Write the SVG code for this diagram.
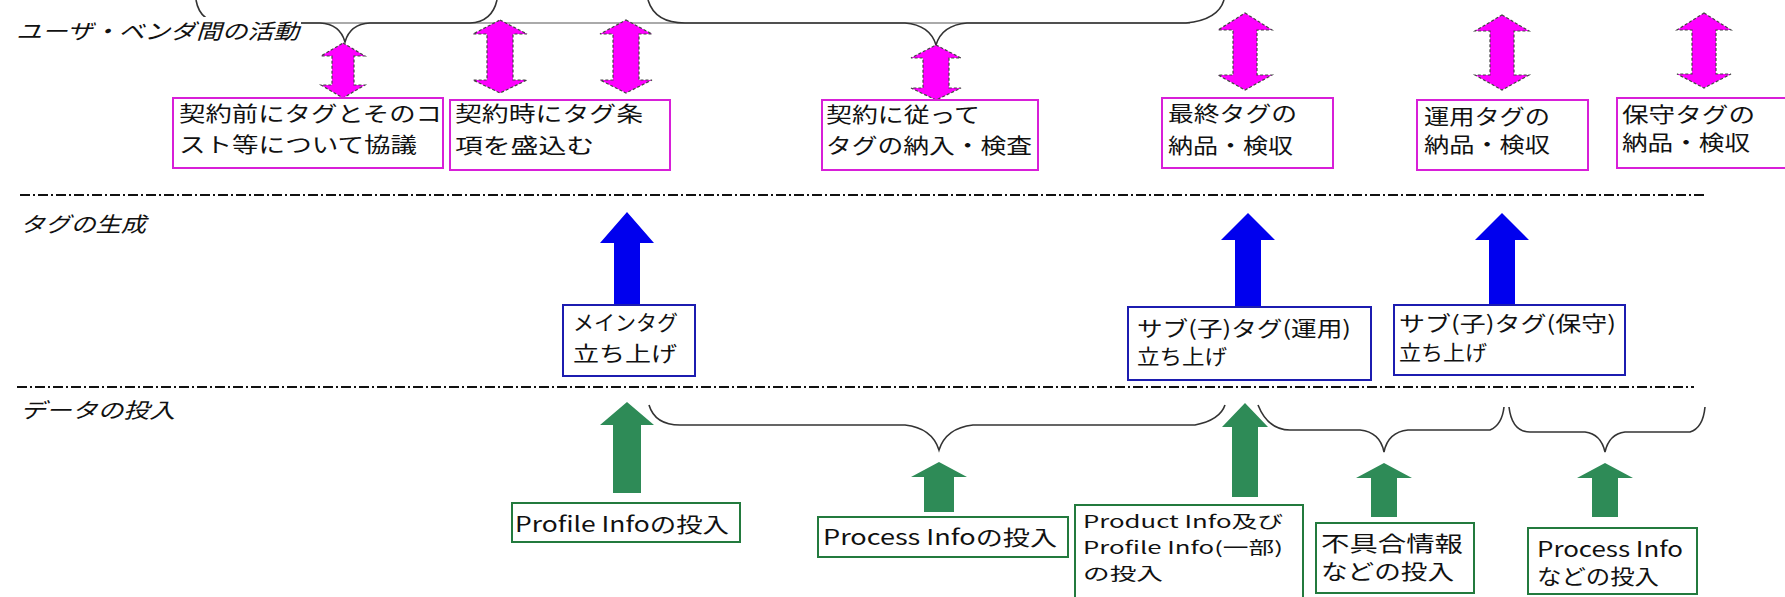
<svg xmlns="http://www.w3.org/2000/svg" width="1785" height="597" viewBox="0 0 1785 597">
<style>
text{font-family:"Noto Sans CJK JP","Noto Sans",sans-serif;font-size:21px;fill:#111;dominant-baseline:central}
.lane{font-style:italic;font-size:21px}
.sm{font-size:17px}
.bm{fill:#fff;stroke:#d81fd8;stroke-width:2}
.bb{fill:#fff;stroke:#1c1cb0;stroke-width:2}
.bg{fill:#fff;stroke:#237a3e;stroke-width:2}
.am{fill:#ff00ff;stroke:#444;stroke-width:1.2;stroke-dasharray:3 2}
.ab{fill:#0000ee;stroke:none}
.ag{fill:#2e8b57;stroke:none}
.dash{stroke:#111;stroke-width:2;stroke-dasharray:10 3 2 3;fill:none}
.brace{fill:none;stroke:#333;stroke-width:1.6}
.gline{stroke:#aaa;stroke-width:2}
</style>
<rect width="1785" height="597" fill="#fff"/>
<g id="connectors">
<line class="gline" x1="300" y1="23" x2="1190" y2="23"/>
<path class="brace" d="M196,0 Q200,23 225,23 L320,23 Q340,24 345,42 Q350,24 370,23 L470,23 Q492,22 497,0"/>
<path class="brace" d="M648,0 Q655,23 685,23 L905,23 Q930,25 936,45 Q942,25 967,23 L1186,23 Q1218,20 1224,0"/>
<path class="brace" stroke-width="2" d="M649,405 Q655,425 680,425 L905,425 Q932,428 939,450 Q946,428 973,425 L1195,425 Q1220,420 1225,405"/>
<path class="brace" stroke-width="2" d="M1258,405 Q1268,430 1290,430 L1360,430 Q1380,432 1384,452 Q1388,432 1408,430 L1490,430 Q1502,425 1504,407"/>
<path class="brace" stroke-width="2" d="M1509,407 Q1512,432 1530,432 L1585,432 Q1601,434 1605,452 Q1609,434 1625,432 L1690,432 Q1703,428 1705,407"/>
<line class="dash" x1="20" y1="195" x2="1707" y2="195"/>
<line class="dash" x1="17" y1="387" x2="1694" y2="387"/>
<path class="am" d="M343,43 L365,56 L354,56 L354,85 L365,85 L343,98 L321,85 L332,85 L332,56 L321,56 Z"/>
<path class="am" d="M500,20 L527,34 L513,34 L513,80 L527,80 L500,93 L473,80 L487,80 L487,34 L473,34 Z"/>
<path class="am" d="M626,20 L652,34 L639,34 L639,80 L652,80 L626,93 L600,80 L613,80 L613,34 L600,34 Z"/>
<path class="am" d="M936,45 L961,58 L949,58 L949,88 L961,88 L936,100 L911,88 L923,88 L923,58 L911,58 Z"/>
<path class="am" d="M1245,13 L1272,30 L1257,30 L1257,75 L1272,75 L1245,90 L1218,75 L1233,75 L1233,30 L1218,30 Z"/>
<path class="am" d="M1502,15 L1529,31 L1514,31 L1514,75 L1529,75 L1502,90 L1475,75 L1490,75 L1490,31 L1475,31 Z"/>
<path class="am" d="M1704,13 L1731,30 L1716,30 L1716,74 L1731,74 L1704,88 L1677,74 L1692,74 L1692,30 L1677,30 Z"/>
<path class="ab" d="M627,212 L654,243 L640,243 L640,305 L614,305 L614,243 L600,243 Z"/>
<path class="ab" d="M1248,213 L1275,240 L1261,240 L1261,307 L1235,307 L1235,240 L1221,240 Z"/>
<path class="ab" d="M1502,213 L1529,240 L1515,240 L1515,305 L1489,305 L1489,240 L1475,240 Z"/>
<path class="ag" d="M627,402 L654,425 L641,425 L641,493 L613,493 L613,425 L600,425 Z"/>
<path class="ag" d="M939,462 L967,477 L954,477 L954,512 L924,512 L924,477 L911,477 Z"/>
<path class="ag" d="M1245,403 L1268,427 L1258,427 L1258,497 L1232,497 L1232,427 L1222,427 Z"/>
<path class="ag" d="M1384,463 L1412,478 L1397,478 L1397,517 L1371,517 L1371,478 L1356,478 Z"/>
<path class="ag" d="M1605,463 L1633,478 L1618,478 L1618,517 L1592,517 L1592,478 L1577,478 Z"/>
</g>
<g id="lane1">
<rect x="14" y="17" width="287" height="27" fill="#fff"/>
<text class="lane" x="16" y="30" textLength="283" lengthAdjust="spacingAndGlyphs">ユーザ・ベンダ間の活動</text>
</g>
<g id="lane2"><text class="lane" x="20" y="223" textLength="126" lengthAdjust="spacingAndGlyphs">タグの生成</text></g>
<g id="lane3"><text class="lane" x="20" y="409" textLength="155" lengthAdjust="spacingAndGlyphs">データの投入</text></g>
<g id="n1"><rect class="bm" x="173" y="98" width="270" height="70"/>
<text x="179" y="112" textLength="263" lengthAdjust="spacingAndGlyphs">契約前にタグとそのコ</text>
<text x="179" y="143" textLength="238" lengthAdjust="spacingAndGlyphs">スト等について協議</text></g>
<g id="n2"><rect class="bm" x="450" y="100" width="220" height="70"/>
<text x="455" y="112" textLength="188" lengthAdjust="spacingAndGlyphs">契約時にタグ条</text>
<text x="455" y="144" textLength="139" lengthAdjust="spacingAndGlyphs">項を盛込む</text></g>
<g id="n3"><rect class="bm" x="822" y="100" width="216" height="70"/>
<text x="826" y="113" textLength="154" lengthAdjust="spacingAndGlyphs">契約に従って</text>
<text x="826" y="144" textLength="206" lengthAdjust="spacingAndGlyphs">タグの納入・検査</text></g>
<g id="n4"><rect class="bm" x="1162" y="98" width="171" height="70"/>
<text x="1168" y="112" textLength="129" lengthAdjust="spacingAndGlyphs">最終タグの</text>
<text x="1168" y="144" textLength="125" lengthAdjust="spacingAndGlyphs">納品・検収</text></g>
<g id="n5"><rect class="bm" x="1417" y="100" width="171" height="70"/>
<text x="1424" y="115" textLength="126" lengthAdjust="spacingAndGlyphs">運用タグの</text>
<text x="1424" y="143" textLength="126" lengthAdjust="spacingAndGlyphs">納品・検収</text></g>
<g id="n6"><rect class="bm" x="1617" y="98" width="175" height="70"/>
<text x="1622" y="113" textLength="133" lengthAdjust="spacingAndGlyphs">保守タグの</text>
<text x="1622" y="141" textLength="128" lengthAdjust="spacingAndGlyphs">納品・検収</text></g>
<g id="n7"><rect class="bb" x="563" y="305" width="132" height="71"/>
<text x="573" y="321" textLength="105" lengthAdjust="spacingAndGlyphs">メインタグ</text>
<text x="573" y="352" textLength="104" lengthAdjust="spacingAndGlyphs">立ち上げ</text></g>
<g id="n8"><rect class="bb" x="1128" y="307" width="243" height="73"/>
<text x="1137" y="327" textLength="214" lengthAdjust="spacingAndGlyphs">サブ(子)タグ(運用)</text>
<text x="1137" y="355" textLength="90" lengthAdjust="spacingAndGlyphs">立ち上げ</text></g>
<g id="n9"><rect class="bb" x="1394" y="305" width="231" height="70"/>
<text x="1399" y="322" textLength="217" lengthAdjust="spacingAndGlyphs">サブ(子)タグ(保守)</text>
<text x="1399" y="351" textLength="88" lengthAdjust="spacingAndGlyphs">立ち上げ</text></g>
<g id="n10"><rect class="bg" x="512" y="503" width="228" height="39"/>
<text x="515" y="523" textLength="214" lengthAdjust="spacingAndGlyphs">Profile Infoの投入</text></g>
<g id="n11"><rect class="bg" x="818" y="517" width="250" height="40"/>
<text x="823" y="536" textLength="234" lengthAdjust="spacingAndGlyphs">Process Infoの投入</text></g>
<g id="n12"><rect class="bg" x="1075" y="505" width="228" height="100"/>
<text class="sm" x="1083" y="520" textLength="200" lengthAdjust="spacingAndGlyphs">Product Info及び</text>
<text class="sm" x="1083" y="546" textLength="200" lengthAdjust="spacingAndGlyphs">Profile Info(一部)</text>
<text class="sm" x="1083" y="572" textLength="80" lengthAdjust="spacingAndGlyphs">の投入</text></g>
<g id="n13"><rect class="bg" x="1316" y="523" width="158" height="70"/>
<text x="1321" y="542" textLength="142" lengthAdjust="spacingAndGlyphs">不具合情報</text>
<text x="1321" y="570" textLength="133" lengthAdjust="spacingAndGlyphs">などの投入</text></g>
<g id="n14"><rect class="bg" x="1528" y="528" width="169" height="66"/>
<text x="1537" y="548" textLength="146" lengthAdjust="spacingAndGlyphs">Process Info</text>
<text x="1537" y="575" textLength="122" lengthAdjust="spacingAndGlyphs">などの投入</text></g>
</svg>
